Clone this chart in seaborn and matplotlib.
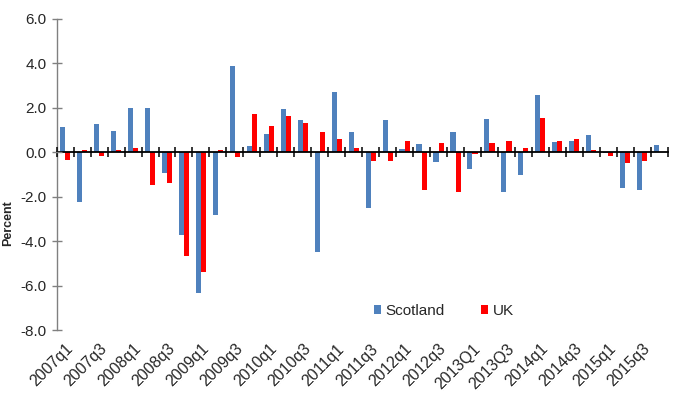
import matplotlib
matplotlib.use("Agg")
import matplotlib.pyplot as plt
import numpy as np
import pandas as pd
import seaborn as sns

quarters = [
    "2007q1", "2007q2", "2007q3", "2007q4",
    "2008q1", "2008q2", "2008q3", "2008q4",
    "2009q1", "2009q2", "2009q3", "2009q4",
    "2010q1", "2010q2", "2010q3", "2010q4",
    "2011q1", "2011q2", "2011q3", "2011q4",
    "2012q1", "2012q2", "2012q3", "2012q4",
    "2013Q1", "2013Q2", "2013Q3", "2013Q4",
    "2014q1", "2014q2", "2014q3", "2014q4",
    "2015q1", "2015q2", "2015q3", "2015q4",
]
scotland = [
    1.15, -2.22, 1.28, 0.96, 1.98, 1.98, -0.93, -3.71,
    -6.32, -2.82, 3.90, 0.29, 0.83, 1.95, 1.46, -4.50,
    2.73, 0.90, -2.49, 1.44, 0.14, 0.36, -0.45, 0.89,
    -0.77, 1.50, -1.80, -1.04, 2.58, 0.45, 0.51, 0.77,
    -0.05, -1.62, -1.70, 0.33,
]
uk = [
    -0.36, 0.08, -0.17, 0.08, 0.18, -1.47, -1.40, -4.67,
    -5.41, 0.08, -0.20, 1.71, 1.16, 1.65, 1.32, 0.90,
    0.60, 0.21, -0.41, -0.39, 0.50, -1.68, 0.41, -1.80,
    -0.09, 0.41, 0.51, 0.20, 1.52, 0.50, 0.60, 0.11,
    -0.18, -0.48, -0.39, np.nan,
]
series = ["Scotland", "UK"]
colors = ["#4F81BD", "#FF0000"]

df = pd.DataFrame({
    "quarter": quarters * 2,
    "value": scotland + uk,
    "series": ["Scotland"] * len(quarters) + ["UK"] * len(quarters),
})

sns.set_style("white")
plt.rcParams["font.family"] = ["Liberation Sans", "DejaVu Sans"]
plt.rcParams["axes.unicode_minus"] = False

fig, ax = plt.subplots(figsize=(6.94, 3.94), dpi=100)
fig.subplots_adjust(left=0.0817, right=0.962, top=0.952, bottom=0.1624)

sns.barplot(data=df, x="quarter", y="value", hue="series", hue_order=series,
            palette=colors, width=0.6, saturation=1, linewidth=0, ax=ax)
ax.set_axisbelow(False)

n = len(quarters)
ax.set_xlim(-0.5, n - 0.5)
ax.set_ylim(-8, 6)
ax.set_yticks(np.arange(-8, 7, 2))
ax.set_yticklabels([f"{v:.1f}" for v in np.arange(-8, 7, 2)], fontsize=11)

# zero line with crossing tick marks at category boundaries
for s in ["top", "right"]:
    ax.spines[s].set_visible(False)
ax.spines["bottom"].set_position(("data", 0))
ax.spines["bottom"].set_color("black")
ax.spines["bottom"].set_linewidth(1.3)
ax.spines["left"].set_color("#808080")
ax.spines["left"].set_linewidth(1.0)
ax.set_xticks(np.arange(-0.5, n, 1), minor=True)
ax.tick_params(axis="x", which="major", bottom=True, length=0, labelbottom=False)
ax.tick_params(axis="x", which="minor", bottom=True, direction="inout", length=7,
               width=1.1, color="black")
ax.tick_params(axis="y", left=True, direction="inout", length=7, width=1,
               color="#808080", pad=4)

# category labels along the bottom edge
sec = ax.secondary_xaxis("bottom")
sec.set_xticks(range(0, n, 2))
sec.set_xticklabels(quarters[::2], fontsize=11.5)
sec.tick_params(length=0, pad=8)
sec.spines["bottom"].set_visible(False)
plt.setp(sec.get_xticklabels(), rotation=45, ha="right", rotation_mode="anchor")

ax.set_xlabel("")
ax.set_ylabel("Percent", fontsize=9, fontweight="bold")
ax.yaxis.set_label_coords(-0.07, 0.344)

handles, labels = ax.get_legend_handles_labels()
ax.legend(handles, labels, loc="center", bbox_to_anchor=(0.634, 0.061), ncol=2,
          frameon=False, fontsize=11, handlelength=0.45, handleheight=0.45,
          handletextpad=0.3, columnspacing=2.4)

fig.savefig("out.png", dpi=100)
